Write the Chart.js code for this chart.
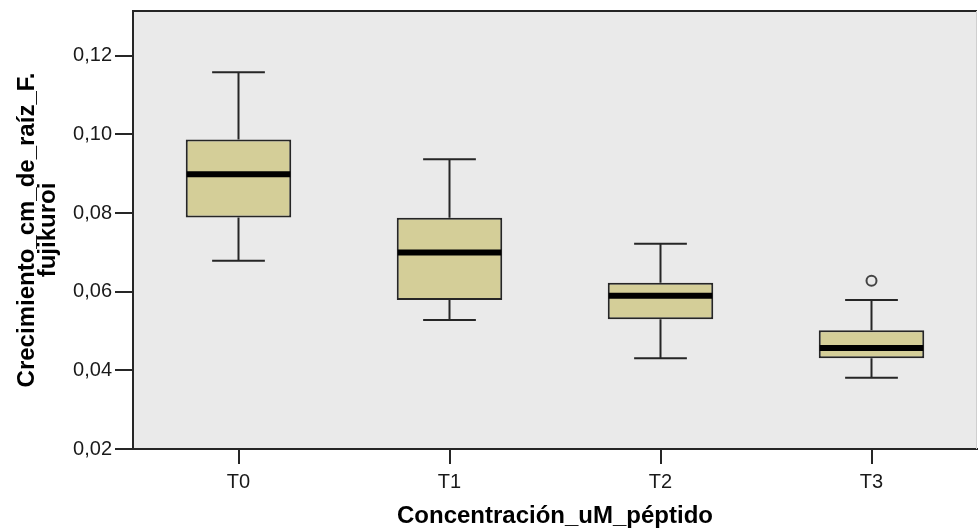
<!DOCTYPE html>
<html>
<head>
<meta charset="utf-8">
<script src="https://cdn.jsdelivr.net/npm/chart.js@4.4.0/dist/chart.umd.min.js"></script>
<style>
  html, body { margin: 0; padding: 0; background: #ffffff; }
  canvas { display: block; }
</style>
</head>
<body>
<canvas id="chart" width="978" height="529"></canvas>
<script>
// Root growth (cm) of F. fujikuroi per peptide concentration: five-number summaries
const categories  = ['T0', 'T1', 'T2', 'T3'];
const whiskerLow  = [0.0679, 0.0528, 0.0431, 0.0381];
const quartile1   = [0.0789, 0.0579, 0.0530, 0.0431];
const medians     = [0.0899, 0.0700, 0.0590, 0.0457];
const quartile3   = [0.0987, 0.0788, 0.0623, 0.0502];
const whiskerHigh = [0.1158, 0.0937, 0.0722, 0.0579];
const outliers    = [null, null, null, 0.0628];
const yTicks      = [0.02, 0.04, 0.06, 0.08, 0.10, 0.12];
const yMin = 0.02;
const yMax = 0.1314;

const INK = '#262626';

// Plot background, whiskers, caps and median bars drawn from the chart's own scales
const boxPlotParts = {
  id: 'boxPlotParts',
  beforeDraw(chart) {
    const { ctx, chartArea: a } = chart;
    ctx.save();
    ctx.fillStyle = '#eaeaea';
    ctx.fillRect(a.left, a.top, a.right - a.left, a.bottom - a.top);
    ctx.restore();
  },
  afterDatasetsDraw(chart) {
    const { ctx } = chart;
    const y = chart.scales.y;
    const meta = chart.getDatasetMeta(0);
    ctx.save();
    meta.data.forEach((bar, i) => {
      const { x, width } = bar.getProps(['x', 'width'], true);
      const capHalf = width / 4;
      const yHi = y.getPixelForValue(whiskerHigh[i]);
      const yQ3 = y.getPixelForValue(quartile3[i]);
      const yQ1 = y.getPixelForValue(quartile1[i]);
      const yLo = y.getPixelForValue(whiskerLow[i]);
      const yMed = y.getPixelForValue(medians[i]);

      ctx.strokeStyle = INK;
      ctx.lineWidth = 2;
      ctx.beginPath();
      ctx.moveTo(x, yQ3); ctx.lineTo(x, yHi);
      ctx.moveTo(x - capHalf, yHi); ctx.lineTo(x + capHalf, yHi);
      ctx.moveTo(x, yQ1); ctx.lineTo(x, yLo);
      ctx.moveTo(x - capHalf, yLo); ctx.lineTo(x + capHalf, yLo);
      ctx.stroke();

      ctx.strokeStyle = '#000000';
      ctx.lineWidth = 6;
      ctx.beginPath();
      ctx.moveTo(x - width / 2 + 1, yMed);
      ctx.lineTo(x + width / 2 - 1, yMed);
      ctx.stroke();
    });
    ctx.restore();
  },
  afterDraw(chart) {
    const { ctx, chartArea: a } = chart;
    ctx.save();
    ctx.strokeStyle = INK;
    ctx.lineWidth = 2;
    ctx.beginPath();
    ctx.moveTo(a.left, a.top);
    ctx.lineTo(a.right, a.top);
    ctx.stroke();
    ctx.strokeStyle = '#cfcfcf';
    ctx.lineWidth = 1;
    ctx.beginPath();
    ctx.moveTo(a.right - 0.5, a.top);
    ctx.lineTo(a.right - 0.5, a.bottom);
    ctx.stroke();
    ctx.restore();
  }
};

const fmt = v => v.toFixed(2).replace('.', ',');

new Chart(document.getElementById('chart'), {
  type: 'bar',
  data: {
    labels: categories,
    datasets: [
      {
        label: 'Caja',
        data: categories.map((_, i) => [quartile1[i], quartile3[i]]),
        backgroundColor: '#d4ce98',
        borderColor: INK,
        borderWidth: 2,
        borderSkipped: false,
        barPercentage: 1,
        categoryPercentage: 0.5
      },
      {
        type: 'line',
        label: 'Atípicos',
        data: outliers,
        showLine: false,
        pointStyle: 'circle',
        pointRadius: 5,
        pointBorderWidth: 2,
        pointBorderColor: '#444444',
        pointBackgroundColor: '#eaeaea'
      }
    ]
  },
  options: {
    responsive: false,
    animation: false,
    devicePixelRatio: 1,
    layout: { autoPadding: false, padding: { top: 11, right: 1, left: 0, bottom: 0 } },
    plugins: {
      legend: { display: false },
      tooltip: { enabled: false }
    },
    scales: {
      x: {
        offset: true,
        afterFit(scale) {
          scale.height = 80;
          scale.paddingLeft = 0;
          scale.paddingRight = 0;
        },
        grid: {
          display: true,
          offset: false,
          drawOnChartArea: false,
          drawTicks: true,
          tickLength: 15,
          tickColor: INK,
          lineWidth: 2
        },
        border: { display: true, color: INK, width: 2 },
        ticks: {
          color: '#1a1a1a',
          padding: 6,
          font: { family: 'Liberation Sans, Arial, sans-serif', size: 20 }
        },
        title: {
          display: true,
          text: 'Concentración_uM_péptido',
          color: '#000000',
          padding: { top: 0, bottom: 3 },
          font: { family: 'Liberation Sans, Arial, sans-serif', size: 24, weight: 'bold', lineHeight: '20px' }
        }
      },
      y: {
        min: yMin,
        max: yMax,
        afterFit(scale) {
          scale.width = 133;
          scale.paddingTop = 0;
          scale.paddingBottom = 0;
        },
        afterBuildTicks(scale) { scale.ticks = yTicks.map(v => ({ value: v })); },
        grid: {
          display: true,
          drawOnChartArea: false,
          drawTicks: true,
          tickLength: 18,
          tickColor: INK,
          lineWidth: 2
        },
        border: { display: true, color: INK, width: 2 },
        ticks: {
          color: '#1a1a1a',
          padding: 3,
          callback: v => fmt(v),
          font: { family: 'Liberation Sans, Arial, sans-serif', size: 20 }
        },
        title: {
          display: true,
          text: ['Crecimiento_cm_de_raíz_F.', 'fujikuroi'],
          color: '#000000',
          padding: { top: 17, bottom: 0 },
          font: { family: 'Liberation Sans, Arial, sans-serif', size: 24, weight: 'bold', lineHeight: '21px' }
        }
      }
    }
  },
  plugins: [boxPlotParts]
});
</script>
</body>
</html>
